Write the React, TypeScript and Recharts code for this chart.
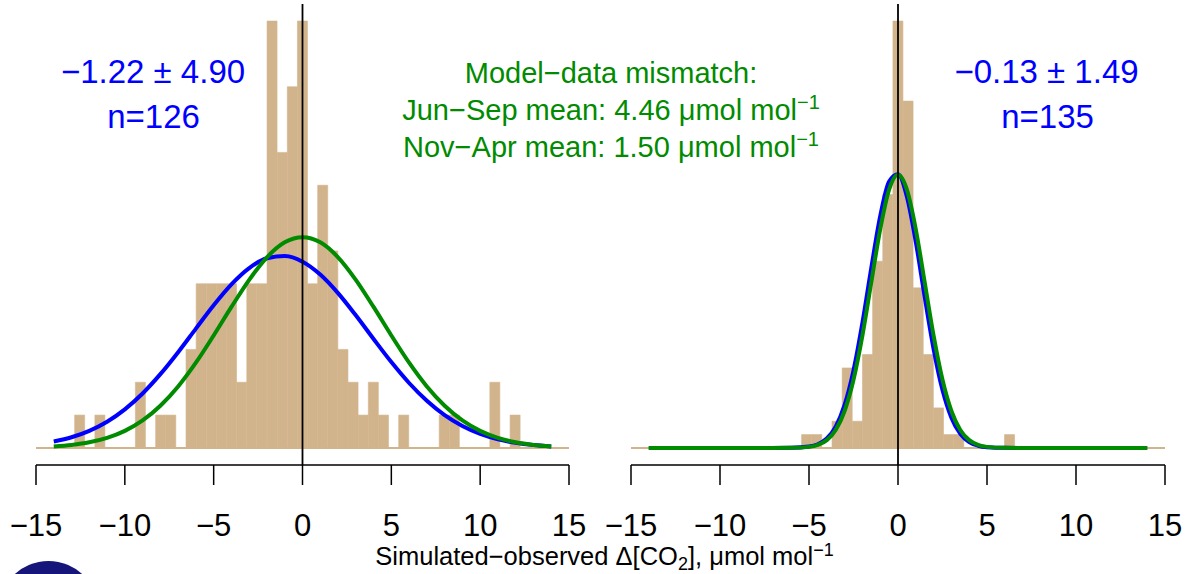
import React from 'react';
import { ComposedChart, Bar, Line, XAxis, YAxis, ReferenceLine } from 'recharts';

// histogram bins (centred on multiples of the bin width)
const binWidth = 0.57;
const binCenters = Array.from({ length: 53 }, (_, i) => +((i - 26) * binWidth).toFixed(3));

const leftCounts = [
  0, 0, 0, 0, 1, 0, 1, 0, 0, 0, 2, 0, 1, 1, 0, 3, 5, 5, 5, 5, 2, 5, 5, 13, 9, 11, 13,
  5, 8, 6, 3, 2, 1, 2, 1, 0, 1, 0, 0, 0, 1, 1, 0, 0, 0, 2, 0, 1, 0, 0, 0, 0, 0,
];
const rightCounts = [
  0, 0, 0, 0, 0, 0, 0, 0, 0, 0, 0, 0, 0, 0, 0, 0, 0, 1, 1, 0, 2, 6, 2, 7, 14, 19, 32,
  26, 12, 7, 3, 1, 1, 0, 0, 0, 0, 1, 0, 0, 0, 0, 0, 0, 0, 0, 0, 0, 0, 0, 0, 0, 0,
];

// fitted curves, in count units
const leftCurveX = [-14, -13, -12, -11, -10, -9, -8, -7, -6, -5, -4, -3, -2, -1, 0, 1, 2, 3, 4, 5, 6, 7, 8, 9, 10, 11, 12, 13, 14];
const leftBlue = [0.195, 0.325, 0.52, 0.798, 1.175, 1.658, 2.246, 2.916, 3.634, 4.345, 4.981, 5.476, 5.776, 5.844, 5.672, 5.28, 4.714, 4.038, 3.317, 2.614, 1.977, 1.434, 0.996, 0.665, 0.425, 0.261, 0.154, 0.087, 0.047];
const leftGreen = [0.047, 0.092, 0.172, 0.306, 0.52, 0.838, 1.285, 1.873, 2.597, 3.425, 4.294, 5.12, 5.806, 6.261, 6.42, 6.261, 5.806, 5.12, 4.294, 3.425, 2.597, 1.873, 1.285, 0.838, 0.52, 0.306, 0.172, 0.092, 0.047];

const rightCurveX = [-14, -8, -6, -5, -4.5, -4, -3.5, -3, -2.5, -2, -1.5, -1, -0.5, 0, 0.5, 1, 1.5, 2, 2.5, 3, 3.5, 4, 4.5, 5, 6, 8, 14];
const rightBlue = [0, 0, 0.009, 0.099, 0.279, 0.706, 1.596, 3.224, 5.814, 9.373, 13.5, 17.37, 19.97, 20.52, 18.84, 15.45, 11.32, 7.416, 4.339, 2.269, 1.059, 0.442, 0.165, 0.055, 0.004, 0, 0];
const rightGreen = [0, 0, 0.007, 0.079, 0.227, 0.585, 1.345, 2.77, 5.105, 8.415, 12.42, 16.39, 19.36, 20.47, 19.36, 16.39, 12.42, 8.415, 5.105, 2.77, 1.345, 0.585, 0.227, 0.079, 0.007, 0, 0];

const xTicks = [-15, -10, -5, 0, 5, 10, 15];

const TAN = '#D2B48C';
const BLUE = '#0000FF';
const GREEN = '#008B00';
const FONT = '"Liberation Sans", Arial, Helvetica, sans-serif';

const H = 574;

interface PanelProps {
  counts: number[];
  curveX: number[];
  blue: number[];
  green: number[];
  yMax: number;
  width: number;
  marginRight: number;
}

function Panel({ counts, curveX, blue, green, yMax, width, marginRight }: PanelProps) {
  const hist = binCenters.map((x, i) => ({ x, count: counts[i] }));
  const blueData = curveX.map((x, i) => ({ x, y: blue[i] }));
  const greenData = curveX.map((x, i) => ({ x, y: green[i] }));
  const pad = yMax * 0.04;

  return (
    <ComposedChart
      width={width}
      height={H}
      data={hist}
      barCategoryGap={0}
      barGap={0}
      margin={{ top: 4, right: marginRight, bottom: 0, left: 36 }}
    >
      <XAxis
        xAxisId="bars"
        dataKey="x"
        type="number"
        domain={[-15, 15]}
        allowDataOverflow
        ticks={xTicks}
        interval={0}
        height={109}
        tickSize={20}
        tickMargin={29}
        axisLine={{ stroke: '#000', strokeWidth: 1.5 }}
        tickLine={{ stroke: '#000', strokeWidth: 1.5 }}
        tick={{ fill: '#000', fontSize: 31, fontFamily: FONT }}
        tickFormatter={(v: number) => String(v).replace('-', '\u2212')}
      />
      <XAxis xAxisId="curves" dataKey="x" type="number" domain={[-15, 15]} allowDataOverflow hide />
      <YAxis hide type="number" domain={[-pad, yMax + pad]} allowDataOverflow />
      <Bar xAxisId="bars" dataKey="count" fill={TAN} stroke={TAN} strokeWidth={0.6} isAnimationActive={false} />
      <ReferenceLine xAxisId="bars" y={0} stroke={TAN} strokeWidth={2} />
      <Line
        xAxisId="curves"
        data={blueData}
        dataKey="y"
        type="monotone"
        stroke={BLUE}
        strokeWidth={4}
        dot={false}
        activeDot={false}
        isAnimationActive={false}
      />
      <Line
        xAxisId="curves"
        data={greenData}
        dataKey="y"
        type="monotone"
        stroke={GREEN}
        strokeWidth={4}
        dot={false}
        activeDot={false}
        isAnimationActive={false}
      />
      <ReferenceLine xAxisId="bars" x={0} stroke="#000" strokeWidth={1.8} />
    </ComposedChart>
  );
}

export default function App() {
  return (
    <div
      style={{
        position: 'absolute',
        left: 0,
        top: 0,
        width: 1189,
        height: H,
        background: '#fff',
        overflow: 'hidden',
        fontFamily: FONT,
      }}
    >
      <div style={{ position: 'absolute', left: 0, top: 0 }}>
        <Panel counts={leftCounts} curveX={leftCurveX} blue={leftBlue} green={leftGreen} yMax={13} width={600} marginRight={31} />
      </div>
      <div style={{ position: 'absolute', left: 595, top: 0 }}>
        <Panel counts={rightCounts} curveX={rightCurveX} blue={rightBlue} green={rightGreen} yMax={32} width={594} marginRight={24} />
      </div>
      <svg
        width={1189}
        height={H}
        style={{ position: 'absolute', left: 0, top: 0, pointerEvents: 'none' }}
        fontFamily={FONT}
      >
        <text x={153} y={83} textAnchor="middle" fill={BLUE} fontSize={33}>−1.22 ± 4.90</text>
        <text x={153.5} y={128} textAnchor="middle" fill={BLUE} fontSize={33}>n=126</text>
        <text x={1046.5} y={83} textAnchor="middle" fill={BLUE} fontSize={33}>−0.13 ± 1.49</text>
        <text x={1047.5} y={128} textAnchor="middle" fill={BLUE} fontSize={33}>n=135</text>

        <text x={611} y={83} textAnchor="middle" fill={GREEN} fontSize={29}>Model−data mismatch:</text>
        <text x={611} y={120} textAnchor="middle" fill={GREEN} fontSize={29}>
          Jun−Sep mean: 4.46 μmol mol<tspan dy={-11} fontSize={20}>−1</tspan>
        </text>
        <text x={611} y={157} textAnchor="middle" fill={GREEN} fontSize={29}>
          Nov−Apr mean: 1.50 μmol mol<tspan dy={-11} fontSize={20}>−1</tspan>
        </text>

        <text x={604.5} y={565} textAnchor="middle" fill="#000" fontSize={25.5}>
          Simulated−observed Δ[CO<tspan dy={5} fontSize={18}>2</tspan>
          <tspan dy={-5}>], μmol mol</tspan>
          <tspan dy={-9} fontSize={18}>−1</tspan>
        </text>

        <circle cx={48.5} cy={611} r={50} fill="#15157a" />
      </svg>
    </div>
  );
}
